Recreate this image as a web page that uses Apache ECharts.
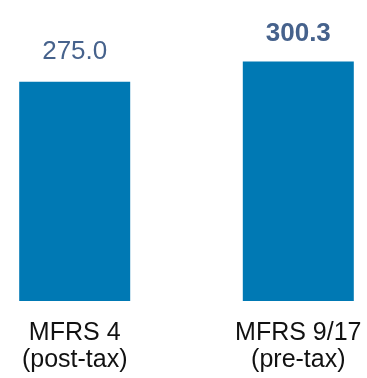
<!DOCTYPE html>
<html>
<head>
<meta charset="utf-8">
<script src="https://cdn.jsdelivr.net/npm/echarts@6/dist/echarts.min.js"></script>
<style>
  html, body { margin: 0; padding: 0; background: #ffffff; }
  #chart { width: 367px; height: 378px; }
</style>
</head>
<body>
<div id="chart"></div>
<script>
// Categories and values
var categories = ['MFRS 4\n(post-tax)', 'MFRS 9/17\n(pre-tax)'];
var values = [275.0, 300.3];
var boldLabel = [false, true];

var chart = echarts.init(document.getElementById('chart'), null, { renderer: 'canvas' });

var seriesData = values.map(function (v, i) {
  return {
    value: v,
    label: {
      fontWeight: boldLabel[i] ? 'bold' : 'normal',
      distance: boldLabel[i] ? 15 : 17
    }
  };
});

chart.setOption({
  animation: false,
  backgroundColor: '#ffffff',
  // category centres sit on the grid edges (boundaryGap off)
  grid: { left: 74.7, right: 68.7, top: 22, bottom: 77, containLabel: false },
  xAxis: {
    type: 'category',
    data: categories,
    boundaryGap: false,
    axisLine: { show: false },
    axisTick: { show: false },
    axisLabel: {
      margin: 19,
      fontFamily: 'Liberation Sans, Arial, sans-serif',
      fontSize: 25,
      lineHeight: 27,
      color: '#111111',
      interval: 0
    }
  },
  yAxis: {
    type: 'value',
    min: 0,
    max: 350,
    show: false,
    splitLine: { show: false }
  },
  series: [{
    type: 'bar',
    data: seriesData,
    barWidth: 111,
    clip: false,
    itemStyle: { color: '#0079B4' },
    label: {
      show: true,
      position: 'top',
      fontFamily: 'Liberation Sans, Arial, sans-serif',
      fontSize: 26,
      color: '#46628C',
      formatter: function (p) { return p.value.toFixed(1); }
    }
  }]
});
</script>
</body>
</html>
